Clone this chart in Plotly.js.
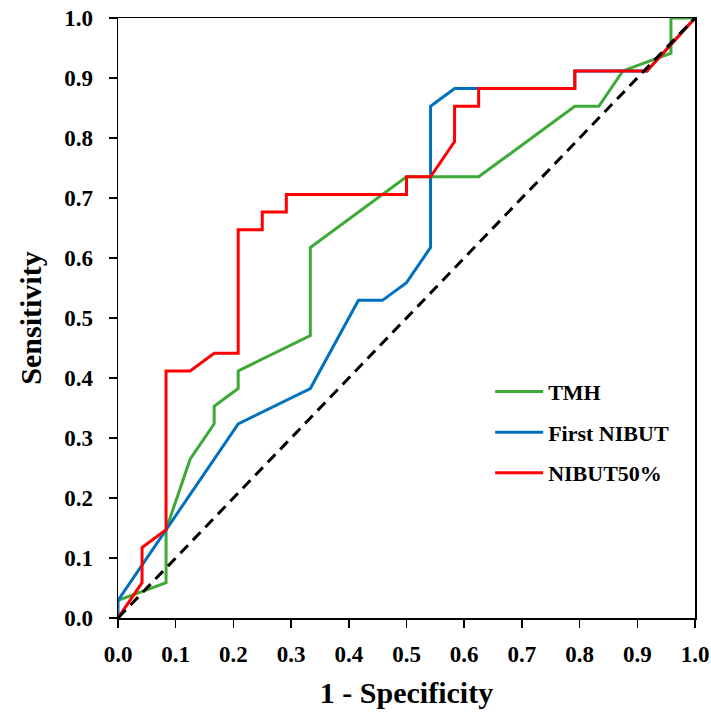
<!DOCTYPE html>
<html>
<head>
<meta charset="utf-8">
<script src="https://cdn.plot.ly/plotly-3.0.1.min.js"></script>
<style>
html,body{margin:0;padding:0;background:#fff;}
#chart{width:711px;height:718px;}
</style>
</head>
<body>
<div id="chart"></div>
<script>
// Series names
const seriesNames = ["TMH", "First NIBUT", "NIBUT50%"];

// TMH
const tmhX = [0, 0.0833, 0.0833, 0.125, 0.1667, 0.1667, 0.2083, 0.2083, 0.3333, 0.3333, 0.5, 0.625, 0.7917, 0.8333, 0.875, 0.9583, 0.9583, 1];
const tmhY = [0.0294, 0.0588, 0.1471, 0.2647, 0.3235, 0.3529, 0.3824, 0.4118, 0.4706, 0.6176, 0.7353, 0.7353, 0.8529, 0.8529, 0.9118, 0.9412, 1, 1];

// First NIBUT
const firstX = [0, 0, 0.2083, 0.3333, 0.4167, 0.4583, 0.5, 0.5417, 0.5417, 0.5833, 0.625, 0.7917, 0.7917, 0.9167, 1];
const firstY = [0, 0.0294, 0.3235, 0.3824, 0.5294, 0.5294, 0.5588, 0.6176, 0.8529, 0.8824, 0.8824, 0.8824, 0.9118, 0.9118, 1];

// NIBUT50%
const n50X = [0, 0.0417, 0.0417, 0.0833, 0.0833, 0.125, 0.1667, 0.2083, 0.2083, 0.25, 0.25, 0.2917, 0.2917, 0.5, 0.5, 0.5417, 0.5833, 0.5833, 0.625, 0.625, 0.7917, 0.7917, 0.9167, 1];
const n50Y = [0, 0.0588, 0.1176, 0.1471, 0.4118, 0.4118, 0.4412, 0.4412, 0.6471, 0.6471, 0.6765, 0.6765, 0.7059, 0.7059, 0.7353, 0.7353, 0.7941, 0.8529, 0.8529, 0.8824, 0.8824, 0.9118, 0.9118, 1];

// Reference diagonal
const refX = [0, 1];
const refY = [0, 1];

// Tick values / labels
const tickVals = [0, 0.1, 0.2, 0.3, 0.4, 0.5, 0.6, 0.7, 0.8, 0.9, 1.0];
const tickText = ["0.0", "0.1", "0.2", "0.3", "0.4", "0.5", "0.6", "0.7", "0.8", "0.9", "1.0"];

const FONT = "Liberation Serif, Times New Roman, serif";

const traces = [
  {x: tmhX, y: tmhY, name: seriesNames[0], mode: "lines", legendgroup: "a",
   line: {color: "#3CAA36", width: 3}},
  {x: firstX, y: firstY, name: seriesNames[1], mode: "lines", legendgroup: "b",
   line: {color: "#0070C0", width: 3}},
  {x: n50X, y: n50Y, name: seriesNames[2], mode: "lines", legendgroup: "c",
   line: {color: "#FF0000", width: 3}},
  {x: refX, y: refY, mode: "lines", showlegend: false, hoverinfo: "skip",
   line: {color: "#000000", width: 3, dash: "11px,7px"}}
];

const axisCommon = {
  range: [0, 1],
  tickvals: tickVals,
  ticktext: tickText,
  showgrid: false,
  zeroline: false,
  showline: true,
  mirror: true,
  linecolor: "#000",
  linewidth: 1.5,
  ticks: "outside",
  ticklen: 8,
  tickwidth: 1.5,
  tickcolor: "#000",
  tickfont: {family: FONT, size: 23, color: "#000", weight: "bold"},
  fixedrange: true
};

const layout = {
  width: 711,
  height: 718,
  margin: {l: 118, r: 16, t: 18, b: 100},
  paper_bgcolor: "#fff",
  plot_bgcolor: "#fff",
  showlegend: true,
  legend: {
    x: 0.645, y: 0.412, xanchor: "left", yanchor: "top",
    bgcolor: "rgba(0,0,0,0)",
    font: {family: FONT, size: 22, color: "#000", weight: "bold"},
    tracegroupgap: 9,
    traceorder: "grouped",
    itemwidth: 48
  },
  xaxis: Object.assign({}, axisCommon, {
    ticklabelstandoff: 7,
    title: {text: "1 - Specificity", standoff: 16,
      font: {family: FONT, size: 30, color: "#000", weight: "bold"}}
  }),
  yaxis: Object.assign({}, axisCommon, {
    ticklabelstandoff: 11,
    title: {text: "Sensitivity", standoff: 13,
      font: {family: FONT, size: 30, color: "#000", weight: "bold"}}
  })
};

Plotly.newPlot("chart", traces, layout, {staticPlot: true, displayModeBar: false});
</script>
</body>
</html>
